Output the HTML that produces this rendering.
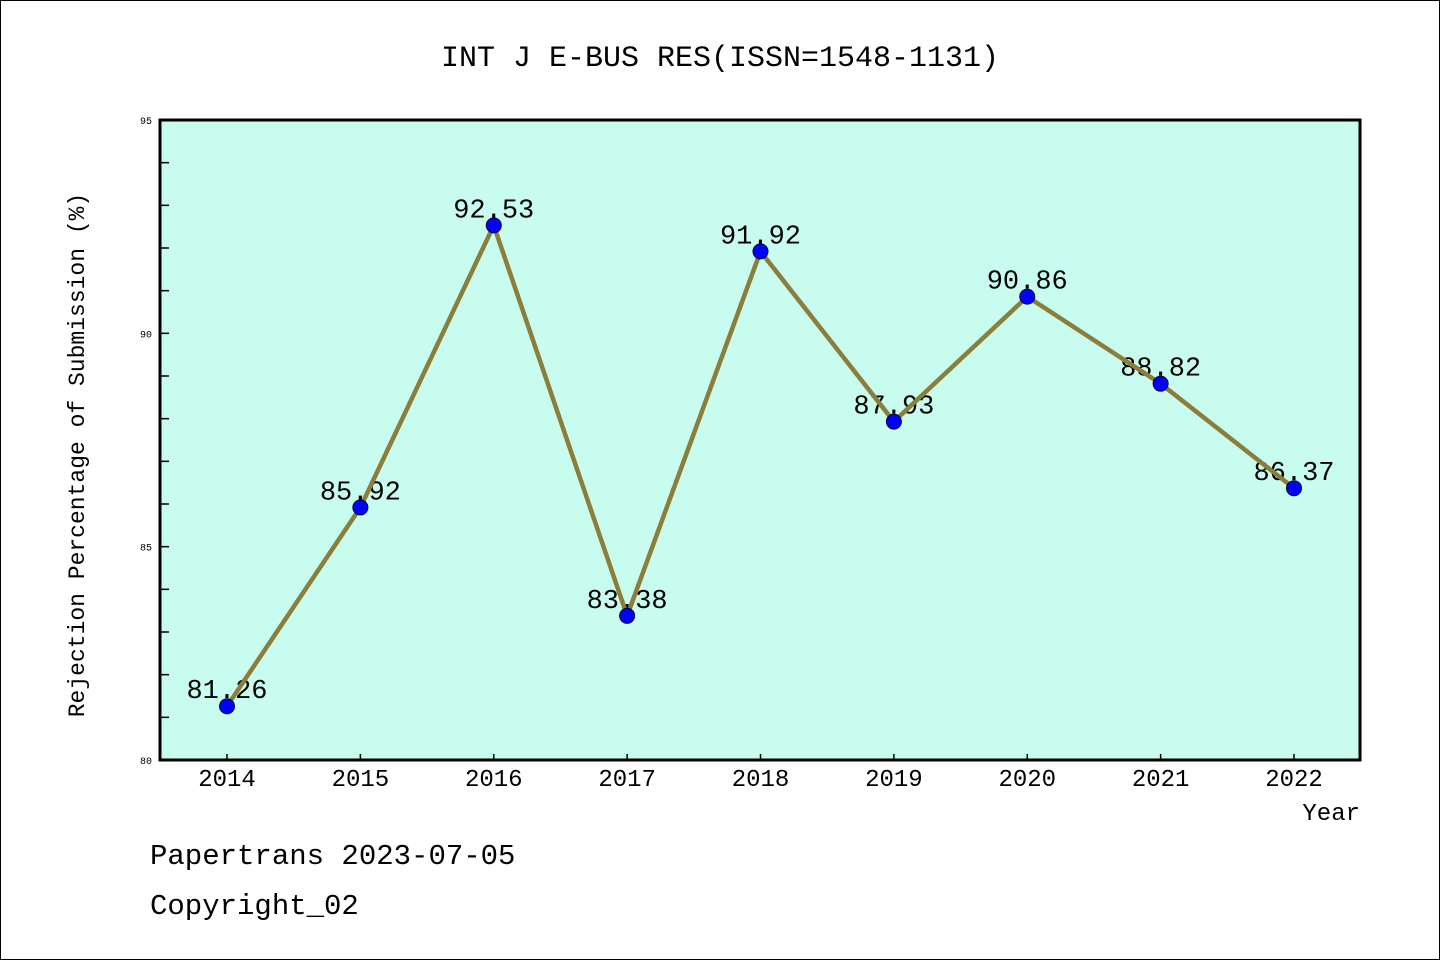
<!DOCTYPE html>
<html><head><meta charset="utf-8"><style>
body{margin:0;background:#fff}
svg{display:block;font-family:"WenQuanYi Zen Hei","Liberation Mono","Noto Sans CJK SC",monospace}
</style></head><body>
<svg id="chart" width="1440" height="960" viewBox="0 0 1440 960">
<rect x="0.5" y="0.5" width="1439" height="959" fill="#fff" stroke="#000" stroke-width="1"/>
<text x="720" y="66" font-size="30" text-anchor="middle">INT J E-BUS RES(ISSN=1548-1131)</text>
<rect x="160" y="120" width="1200" height="640" fill="#c8fcee"/>
<g id="ticks"></g>
<g id="series"></g>
<rect x="160" y="120" width="1200" height="640" fill="none" stroke="#000" stroke-width="3"/>
<text transform="translate(84,455) rotate(-90)" font-size="23" text-anchor="middle">Rejection Percentage of Submission (%)</text>
<text x="1360" y="820" font-size="24" text-anchor="end">Year</text>
<text x="150" y="864" font-size="29">Papertrans 2023-07-05</text>
<text x="150" y="914" font-size="29">Copyright_02</text>
</svg>
<script>
const years = ["2014","2015","2016","2017","2018","2019","2020","2021","2022"];
const values = [81.26, 85.92, 92.53, 83.38, 91.92, 87.93, 90.86, 88.82, 86.37];
const valueLabels = ["81.26","85.92","92.53","83.38","91.92","87.93","90.86","88.82","86.37"];
const yTickLabels = ["80","85","90","95"];
const NS="http://www.w3.org/2000/svg";
const yMin=80,yMax=95;
function yS(v){return 760-(v-yMin)/(yMax-yMin)*640;}
function xS(i){return 227+i*(1294-227)/(years.length-1);}
function mk(t,a,p){const e=document.createElementNS(NS,t);for(const k in a)e.setAttribute(k,a[k]);p.appendChild(e);return e;}
const tg=document.getElementById('ticks'), sg=document.getElementById('series');
for(let v=yMin;v<=yMax;v++){
  const l=mk('line',{x1:160,x2:169,y1:yS(v),y2:yS(v),stroke:'#000','stroke-width':1.5},tg);
  
  
}
yTickLabels.forEach(s=>{
  const t=mk('text',{x:152,y:yS(+s)+4,'font-size':10,'text-anchor':'end'},tg);
  t.textContent=s;
  
  
});
years.forEach((y,i)=>{
  const l=mk('line',{x1:xS(i),x2:xS(i),y1:760,y2:754,stroke:'#000','stroke-width':1.5},tg);
  
  
  const t=mk('text',{x:xS(i),y:786,'font-size':24,'text-anchor':'middle'},tg);
  t.textContent=y;
  
  
});
values.forEach((v,i)=>{
  const t=mk('text',{x:xS(i),y:yS(v)-8,'font-size':27,'text-anchor':'middle'},sg);
  t.textContent=valueLabels[i];
  
  
});
const pl=mk('polyline',{points:values.map((v,i)=>xS(i)+','+yS(v)).join(' '),fill:'none',stroke:'#8b7d3a','stroke-width':4.5,'stroke-linejoin':'round'},sg);


values.forEach((v,i)=>{
  const c=mk('circle',{cx:xS(i),cy:yS(v),r:7.5,fill:'#0000ff',stroke:'#000033','stroke-width':1},sg);
  
  
});
</script>
</body></html>
